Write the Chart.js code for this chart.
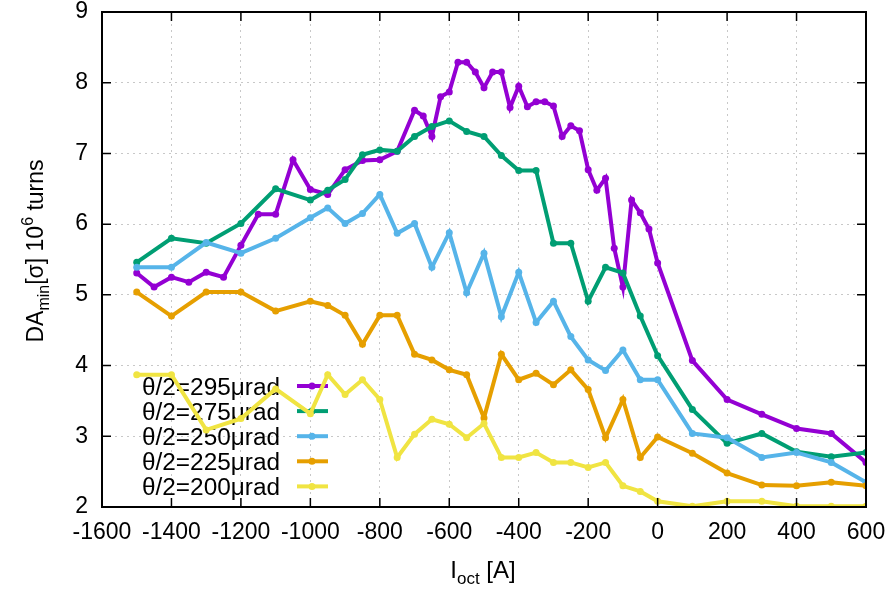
<!DOCTYPE html>
<html>
<head>
<meta charset="utf-8">
<script src="https://cdn.jsdelivr.net/npm/chart.js@4/dist/chart.umd.min.js"></script>
<style>
  html, body { margin: 0; padding: 0; background: #fff; }
  #wrap { position: relative; width: 892px; height: 590px; }
  canvas { display: block; }
  #box {
    position: absolute;
    border: 2px solid #000;
    box-sizing: border-box;
    pointer-events: none;
  }
</style>
</head>
<body>
<div id="wrap">
  <canvas id="daChart" width="892" height="590"></canvas>
  <div id="box"></div>
</div>
<script>
// octupole current [A] for the 295 urad scan (finer steps near the peak)
const iFine = [-1500, -1450, -1400, -1350, -1300, -1250, -1200, -1150, -1100, -1050,
  -1000, -950, -900, -850, -800, -750, -700, -675, -650, -625, -600, -575, -550, -525,
  -500, -475, -450, -425, -400, -375, -350, -325, -300, -275, -250, -225, -200, -175,
  -150, -125, -100, -75, -50, -25, 0, 100, 200, 300, 400, 500, 600];
// octupole current [A] for the other scans
const iStd = [-1500, -1400, -1300, -1200, -1100, -1000, -950, -900, -850, -800, -750,
  -700, -650, -600, -550, -500, -450, -400, -350, -300, -250, -200, -150, -100, -50,
  0, 100, 200, 300, 400, 500, 600];

const da295 = [5.31, 5.11, 5.25, 5.18, 5.32, 5.25, 5.70, 6.14, 6.14, 6.91,
  6.49, 6.42, 6.77, 6.90, 6.91, 7.03, 7.61, 7.53, 7.24, 7.80, 7.87, 8.29, 8.29, 8.15,
  7.93, 8.15, 8.15, 7.65, 7.95, 7.66, 7.73, 7.73, 7.67, 7.24, 7.39, 7.32, 6.77, 6.48,
  6.65, 5.66, 5.11, 6.34, 6.16, 5.93, 5.45, 4.07, 3.52, 3.31, 3.11, 3.04, 2.63];
const da275 = [5.46, 5.80, 5.73, 6.01, 6.50, 6.34, 6.48, 6.63, 6.98, 7.05, 7.03,
  7.24, 7.38, 7.46, 7.31, 7.24, 6.97, 6.76, 6.76, 5.73, 5.73, 4.91, 5.39, 5.31, 4.70,
  4.14, 3.38, 2.90, 3.04, 2.78, 2.71, 2.77];
const da250 = [5.39, 5.39, 5.74, 5.59, 5.80, 6.09, 6.23, 6.01, 6.15, 6.42, 5.87,
  6.01, 5.39, 5.88, 5.03, 5.59, 4.69, 5.32, 4.61, 4.91, 4.41, 4.08, 3.93, 4.22, 3.80,
  3.80, 3.04, 2.98, 2.70, 2.77, 2.63, 2.35];
const da225 = [5.04, 4.70, 5.04, 5.04, 4.77, 4.91, 4.85, 4.71, 4.30, 4.71, 4.71,
  4.16, 4.08, 3.94, 3.87, 3.26, 4.16, 3.80, 3.89, 3.73, 3.94, 3.66, 2.98, 3.52, 2.70,
  2.99, 2.76, 2.48, 2.31, 2.30, 2.35, 2.30];
const da200 = [3.87, 3.87, 3.09, 3.25, 3.67, 3.32, 3.87, 3.59, 3.80, 3.52, 2.70,
  3.03, 3.24, 3.17, 2.98, 3.18, 2.70, 2.70, 2.77, 2.63, 2.63, 2.56, 2.63, 2.30, 2.22,
  2.08, 2.01, 2.08, 2.08, 2.01, 2.01, 2.01];

const seriesLabels = ["θ/2=295μrad", "θ/2=275μrad", "θ/2=250μrad", "θ/2=225μrad", "θ/2=200μrad"];
const seriesColors = ["#9400D3", "#009E73", "#56B4E9", "#E69F00", "#F0E442"];
const xTicks = [-1600, -1400, -1200, -1000, -800, -600, -400, -200, 0, 200, 400, 600];
const yTicks = [2, 3, 4, 5, 6, 7, 8, 9];

const FONT = "'Liberation Sans', Arial, sans-serif";

const pts = (xs, ys) => xs.map((x, i) => ({ x: x, y: ys[i] }));
const seriesData = [
  pts(iFine, da295), pts(iStd, da275), pts(iStd, da250), pts(iStd, da225), pts(iStd, da200),
];

// draws text pieces in a row (sub/superscripts via dy), centred on cx
function drawRich(ctx, parts, cx, cy) {
  let total = 0;
  parts.forEach((p) => {
    ctx.font = p.size + "px " + FONT;
    total += ctx.measureText(p.t).width;
  });
  let x = cx - total / 2;
  ctx.textAlign = "left";
  parts.forEach((p) => {
    ctx.font = p.size + "px " + FONT;
    ctx.fillText(p.t, x, cy + (p.dy || 0));
    x += ctx.measureText(p.t).width;
  });
}

// key inside the plot, text left of the sample line
const keyPlugin = {
  id: "gpKey",
  beforeDatasetsDraw(chart) {
    const ctx = chart.ctx;
    ctx.save();
    ctx.font = "23px " + FONT;
    ctx.textAlign = "right";
    ctx.textBaseline = "alphabetic";
    chart.data.datasets.forEach((ds, i) => {
      const base = 395 + i * 25.1;
      const cy = base - 9;
      ctx.fillStyle = "#000";
      const w = ctx.measureText(seriesLabels[i]).width;
      ctx.save();
      ctx.translate(280, base);
      ctx.scale(138 / w, 1);
      ctx.fillText(seriesLabels[i], 0, 0);
      ctx.restore();
      ctx.strokeStyle = ds.borderColor;
      ctx.lineWidth = 4;
      ctx.beginPath();
      ctx.moveTo(297, cy);
      ctx.lineTo(328, cy);
      ctx.stroke();
      ctx.fillStyle = ds.borderColor;
      ctx.beginPath();
      ctx.arc(312, cy, 3.5, 0, Math.PI * 2);
      ctx.fill();
    });
    ctx.restore();
  },
};

// inward ticks on all sides, plus axis titles
const framePlugin = {
  id: "gpFrame",
  afterDraw(chart) {
    const ctx = chart.ctx;
    const xs = chart.scales.x;
    const ys = chart.scales.y;
    const L = xs.left, R = xs.right, T = ys.top, B = ys.bottom;
    ctx.save();
    ctx.strokeStyle = "#000";
    ctx.lineWidth = 2;
    ctx.strokeRect(L, T, R - L, B - T);
    ctx.lineWidth = 1.5;
    ctx.beginPath();
    xTicks.forEach((v) => {
      const p = xs.getPixelForValue(v);
      ctx.moveTo(p, B);
      ctx.lineTo(p, B - 9);
      ctx.moveTo(p, T);
      ctx.lineTo(p, T + 9);
    });
    yTicks.forEach((v) => {
      const p = ys.getPixelForValue(v);
      ctx.moveTo(L, p);
      ctx.lineTo(L + 9, p);
      ctx.moveTo(R, p);
      ctx.lineTo(R - 9, p);
    });
    ctx.stroke();

    ctx.fillStyle = "#000";
    ctx.textBaseline = "alphabetic";
    drawRich(ctx, [
      { t: "I", size: 24 },
      { t: "oct", size: 17, dy: 6 },
      { t: " [A]", size: 24 },
    ], 483, 578);

    ctx.translate(43, 251);
    ctx.rotate(-Math.PI / 2);
    drawRich(ctx, [
      { t: "DA", size: 23 },
      { t: "min", size: 16, dy: 6 },
      { t: "[σ] 10", size: 23 },
      { t: "6", size: 16, dy: -10 },
      { t: " turns", size: 23 },
    ], 0, 0);
    ctx.restore();
  },
};

const daChart = new Chart(document.getElementById("daChart"), {
  type: "line",
  data: {
    datasets: seriesData.map((d, i) => ({
      label: seriesLabels[i],
      data: d,
      borderColor: seriesColors[i],
      backgroundColor: seriesColors[i],
      borderWidth: 4,
      pointRadius: 3.5,
      pointBorderWidth: 0,
      pointBackgroundColor: seriesColors[i],
      tension: 0,
      fill: false,
      order: 5 - i, // later series drawn on top
    })),
  },
  options: {
    responsive: false,
    animation: false,
    layout: { padding: { top: 12, right: 26, left: 0, bottom: 0 } },
    plugins: {
      legend: { display: false },
      tooltip: { enabled: false },
    },
    scales: {
      x: {
        type: "linear",
        min: -1600,
        max: 600,
        afterFit: (s) => {
          s.height = 83;
          s.paddingLeft = 0;
          s.paddingRight = 0;
        },
        afterBuildTicks: (s) => { s.ticks = xTicks.map((v) => ({ value: v })); },
        ticks: {
          color: "#000",
          font: { family: FONT, size: 23 },
          padding: 12,
          maxRotation: 0,
          autoSkip: false,
          callback: (v) => String(v),
        },
        grid: { color: "#c8c8c8", lineWidth: 1, drawTicks: false },
        border: { display: true, color: "#000", width: 2, dash: [2, 4] },
      },
      y: {
        min: 2,
        max: 9,
        afterFit: (s) => {
          s.width = 102;
          s.paddingTop = 0;
          s.paddingBottom = 0;
        },
        afterBuildTicks: (s) => { s.ticks = yTicks.map((v) => ({ value: v })); },
        ticks: {
          color: "#000",
          font: { family: FONT, size: 23 },
          padding: 14,
          callback: (v) => String(v),
        },
        grid: { color: "#c8c8c8", lineWidth: 1, drawTicks: false },
        border: { display: true, color: "#000", width: 2, dash: [2, 4] },
      },
    },
  },
  plugins: [keyPlugin, framePlugin],
});

// outline box placed from the chart's own scales
const sx = daChart.scales.x, sy = daChart.scales.y;
const box = document.getElementById("box");
box.style.left = (sx.left - 1) + "px";
box.style.top = (sy.top - 1) + "px";
box.style.width = (sx.right - sx.left + 2) + "px";
box.style.height = (sy.bottom - sy.top + 2) + "px";
</script>
</body>
</html>
